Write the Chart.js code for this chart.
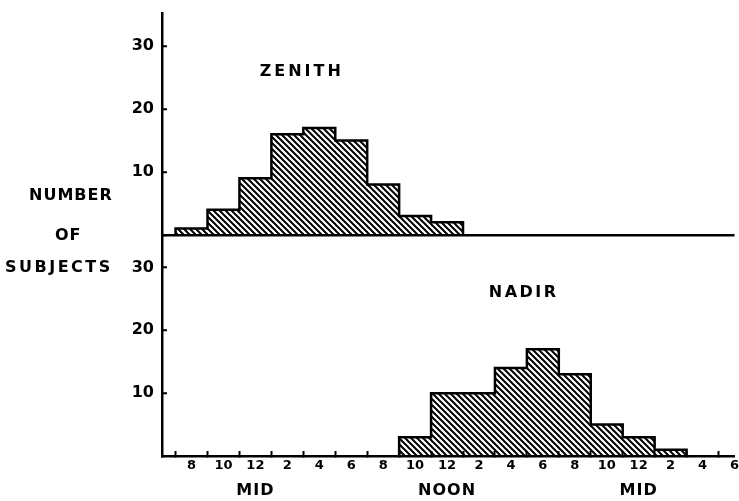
<!DOCTYPE html>
<html>
<head>
<meta charset="utf-8">
<script src="https://cdn.jsdelivr.net/npm/chart.js@4.4.1/dist/chart.umd.min.js"></script>
<style>
  html, body { margin: 0; padding: 0; background: #fff; overflow: hidden; width: 739px; height: 501px; }
  #chart { position: absolute; left: 0; top: -9px; }
</style>
</head>
<body>
<canvas id="chart" width="746" height="510"></canvas>
<script>
// hours on a running clock: 24 = midnight, 36 = noon, 48 = next midnight
const zenithBinStarts = [19, 21, 23, 25, 27, 29, 31, 33, 35];
const zenithCounts = [1, 4, 9, 16, 17, 15, 8, 3, 2];
const nadirBinStarts = [33, 35, 37, 39, 41, 43, 45, 47, 49];
const nadirCounts = [3, 10, 10, 14, 17, 13, 5, 3, 1];
const binWidth = 2;

const xTickHours = [20, 22, 24, 26, 28, 30, 32, 34, 36, 38, 40, 42, 44, 46, 48, 50, 52, 54];
const xTickLabels = ["8", "10", "12", "2", "4", "6", "8", "10", "12", "2", "4", "6", "8", "10", "12", "2", "4", "6"];
const dayMarkHours = [24, 36, 48];
const dayMarkLabels = ["MID", "NOON", "MID"];
const yTickValues = [10, 20, 30];

const FONT = '"DejaVu Sans", "Liberation Sans", sans-serif';
const SHIFT = 9; // canvas is moved up by this much

function hatch() {
    const c = document.createElement("canvas");
    c.width = 6;
    c.height = 6;
    const g = c.getContext("2d");
    g.strokeStyle = "#000";
    g.lineWidth = 2;
    g.beginPath();
    g.moveTo(-1, -1); g.lineTo(7, 7);
    g.moveTo(-7, -1); g.lineTo(1, 7);
    g.moveTo(5, -1); g.lineTo(13, 7);
    g.stroke();
    return g.createPattern(c, "repeat");
}

const toBars = (starts, counts) =>
    starts.map((s, i) => ({ x: s + binWidth / 2, y: counts[i] }));

// corners of the histogram outline
function outline(starts, counts) {
    const pts = [{ x: starts[0], y: 0 }];
    starts.forEach((s, i) => {
        pts.push({ x: s, y: counts[i] });
        pts.push({ x: s + binWidth, y: counts[i] });
    });
    pts.push({ x: starts[starts.length - 1] + binWidth, y: 0 });
    return pts;
}

const textPlugin = {
    id: "texts",
    afterDraw(chart) {
        const ctx = chart.ctx;
        const x = chart.scales.x;
        const yTop = chart.scales.yTop;
        const yBot = chart.scales.yBot;
        ctx.save();
        ctx.fillStyle = "#000";
        ctx.textBaseline = "middle";

        ctx.font = "bold 16px " + FONT;
        ctx.letterSpacing = "1px";
        ctx.textAlign = "center";
        dayMarkHours.forEach((h, i) => ctx.fillText(dayMarkLabels[i], x.getPixelForValue(h), 491 + SHIFT));

        ctx.letterSpacing = "3px";
        ctx.fillText("ZENITH", x.getPixelForValue(26.9), yTop.getPixelForValue(26));
        ctx.letterSpacing = "2.5px";
        ctx.fillText("NADIR", x.getPixelForValue(40.8), yBot.getPixelForValue(26));

        ctx.textAlign = "left";
        ctx.letterSpacing = "1px";
        ctx.fillText("NUMBER", 29, 196 + SHIFT);
        ctx.fillText("OF", 55, 236 + SHIFT);
        ctx.letterSpacing = "2.5px";
        ctx.fillText("SUBJECTS", 5, 268 + SHIFT);
        ctx.restore();
    }
};

const pattern = hatch();

const yAxis = (withBaseline) => ({
    type: "linear",
    position: "left",
    stack: "panels",
    stackWeight: 1,
    min: 0,
    max: 35.2,
    afterBuildTicks: s => {
        s.ticks = (withBaseline ? [0] : []).concat(yTickValues).map(v => ({ value: v }));
    },
    afterFit: s => { s.width = 40; },
    ticks: {
        color: "#000",
        font: { family: FONT, size: 16, weight: "bold" },
        padding: 13,
        callback: v => (v === 0 ? "" : String(v))
    },
    grid: {
        drawOnChartArea: withBaseline,
        color: ctx => (ctx.tick && ctx.tick.value === 0 ? "#000" : "rgba(0,0,0,0)"),
        lineWidth: 2.5,
        tickColor: "#000",
        tickWidth: 2,
        tickLength: -5
    },
    border: { display: true, color: "#000", width: 2.5 }
});

new Chart(document.getElementById("chart"), {
    type: "bar",
    data: {
        datasets: [
            {
                data: toBars(zenithBinStarts, zenithCounts),
                yAxisID: "yTop",
                backgroundColor: pattern,
                borderWidth: 0,
                barPercentage: 1,
                categoryPercentage: 1,
                grouped: false,
                order: 2
            },
            {
                data: toBars(nadirBinStarts, nadirCounts),
                yAxisID: "yBot",
                backgroundColor: pattern,
                borderWidth: 0,
                barPercentage: 1,
                categoryPercentage: 1,
                grouped: false,
                order: 2
            },
            {
                type: "line",
                data: outline(zenithBinStarts, zenithCounts),
                xAxisID: "xLine",
                yAxisID: "yTop",
                borderColor: "#000",
                borderWidth: 2.5,
                pointRadius: 0,
                fill: false,
                order: 1
            },
            {
                type: "line",
                data: outline(nadirBinStarts, nadirCounts),
                xAxisID: "xLine",
                yAxisID: "yBot",
                borderColor: "#000",
                borderWidth: 2.5,
                pointRadius: 0,
                fill: false,
                order: 1
            }
        ]
    },
    options: {
        responsive: false,
        animation: false,
        layout: { padding: { left: 122, top: 13, right: 3, bottom: 0 } },
        plugins: { legend: { display: false }, tooltip: { enabled: false } },
        scales: {
            x: {
                type: "linear",
                min: 18.15,
                max: 54,
                offset: false,
                afterBuildTicks: s => { s.ticks = xTickHours.map(v => ({ value: v })); },
                afterFit: s => { s.height = 45; },
                ticks: {
                    color: "#000",
                    font: { family: FONT, size: 13, weight: "bold" },
                    padding: 7,
                    maxRotation: 0,
                    autoSkip: false,
                    callback: v => xTickLabels[xTickHours.indexOf(v)]
                },
                grid: {
                    drawOnChartArea: false,
                    tickColor: "#000",
                    tickWidth: 2,
                    tickLength: -5
                },
                border: { display: true, color: "#000", width: 2.5 }
            },
            // same range as x, only carries the outline corners
            xLine: {
                type: "linear",
                position: "bottom",
                min: 18.15,
                max: 54,
                offset: false,
                afterFit: s => { s.height = 0; },
                ticks: { display: false },
                grid: { display: false, drawTicks: false },
                border: { display: false }
            },
            yBot: yAxis(false),
            yTop: yAxis(true)
        }
    },
    plugins: [textPlugin]
});
</script>
</body>
</html>
